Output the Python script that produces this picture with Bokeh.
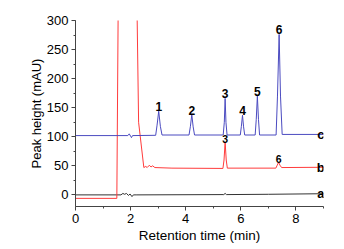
from bokeh.plotting import figure
from bokeh.models import Range1d, SingleIntervalTicker, Title
from bokeh.core.properties import value
from bokeh.embed import file_html
from bokeh.resources import INLINE

# ---- data ----
a_time = [0.0, 1.65, 1.72, 1.78, 1.85, 1.92, 1.98, 2.05, 2.10, 2.20, 5.38, 5.43, 5.48, 7.0, 9.0]
a_signal = [0, 0, 2.5, 1, 2.5, -1, 1.5, -3, 0, 0, 0.5, 2.5, 0.5, 1, 2]

b_time = [0.0, 1.50, 1.55, 2.23, 2.29, 2.48, 2.55, 2.60, 2.68, 2.74, 2.80, 2.88, 3.5,
          5.35, 5.39, 5.43, 5.47, 5.51, 7.27, 7.32, 7.37, 7.42, 7.48, 9.0]
b_signal = [-6, -6, 330, 330, 125, 47, 49, 47, 51, 48, 50, 47, 46,
            45.5, 60, 91, 60, 46, 46, 51, 56, 51, 47, 47.5]

c_time = [0.0, 1.90, 1.95, 2.00, 2.03, 2.07, 2.91, 2.96, 3.02, 3.08, 3.14,
          4.12, 4.17, 4.22, 4.27, 4.32, 5.36, 5.40, 5.43, 5.46, 5.50,
          5.98, 6.02, 6.06, 6.10, 6.14, 6.52, 6.56, 6.60, 6.64, 6.68,
          7.28, 7.33, 7.39, 7.44, 7.50, 9.0]
c_signal = [102, 102, 105, 101, 98.5, 102, 102.5, 120, 144, 118, 103,
            103, 118, 138, 117, 103, 103, 125, 166, 125, 103,
            103, 118, 137, 117, 103, 103, 130, 170, 130, 103,
            103, 170, 276, 170, 104, 104]

c_peak_time = [3.02, 4.22, 5.43, 6.06, 6.60, 7.39]
c_peak_height = [144, 138, 166, 137, 170, 276]
c_peak_label = ["1", "2", "3", "4", "5", "6"]

b_peak_time = [5.43, 7.37]
b_peak_height = [91, 56]
b_peak_label = ["3", "6"]

trace_label = ["c", "b", "a"]
trace_label_time = [8.9, 8.9, 8.9]
trace_label_level = [104, 47.5, 2]

x_title = "Retention time (min)"
y_title = "Peak height (mAU)"

FONT = "Liberation Sans"

p = figure(width=344, height=249, output_backend="svg", toolbar_location=None,
           x_range=Range1d(0, 9), y_range=Range1d(-20, 300),
           min_border_left=75, min_border_right=21, min_border_top=20, min_border_bottom=43)
p.outline_line_color = None
p.grid.visible = False
p.background_fill_color = "white"
p.border_fill_color = "white"

p.line(a_time, a_signal, line_color="#333333", line_width=1)
p.line(b_time, b_signal, line_color="#ff3b3b", line_width=1)
p.line(c_time, c_signal, line_color="#4b4bc0", line_width=1)

p.text(x=c_peak_time, y=c_peak_height, text=c_peak_label, text_align="center",
       text_baseline="bottom", y_offset=0, text_font=value(FONT), text_font_style="bold",
       text_font_size=value("12px"), text_color="black")
p.text(x=b_peak_time, y=b_peak_height, text=b_peak_label, text_align="center",
       text_baseline="bottom", y_offset=1, text_font=value(FONT), text_font_style="bold",
       text_font_size=value("10.5px"), text_color="black")
p.text(x=trace_label_time, y=trace_label_level, text=trace_label, text_align="center",
       text_baseline="alphabetic", y_offset=0, text_font=value(FONT), text_font_style="bold",
       text_font_size=value("13px"), text_color="black")

xa = p.xaxis[0]
xa.ticker = SingleIntervalTicker(interval=2, num_minor_ticks=2)
ya = p.yaxis[0]
ya.ticker = SingleIntervalTicker(interval=50, num_minor_ticks=2)
ya.axis_label = y_title
for ax in (xa, ya):
    ax.axis_line_color = "#444444"
    ax.major_tick_line_color = "#444444"
    ax.minor_tick_line_color = "#444444"
    ax.major_tick_in = 0
    ax.major_tick_out = 4
    ax.minor_tick_in = 0
    ax.minor_tick_out = 2
    ax.major_label_text_font = FONT
    ax.major_label_text_font_size = "13px"
    ax.major_label_text_color = "black"
    ax.major_label_standoff = 3
    ax.axis_label_text_font = FONT
    ax.axis_label_text_font_size = "13px"
    ax.axis_label_text_font_style = "normal"
    ax.axis_label_text_color = "black"
    ax.axis_label_standoff = 0

# x-axis title placed slightly right of the frame centre, as in the original
p.add_layout(Title(text=x_title, align="center", offset=6, standoff=0,
                   text_font=FONT, text_font_size="13.5px", text_font_style="normal",
                   text_color="black"), "below")

open("out.html", "w").write(file_html(p, INLINE))
